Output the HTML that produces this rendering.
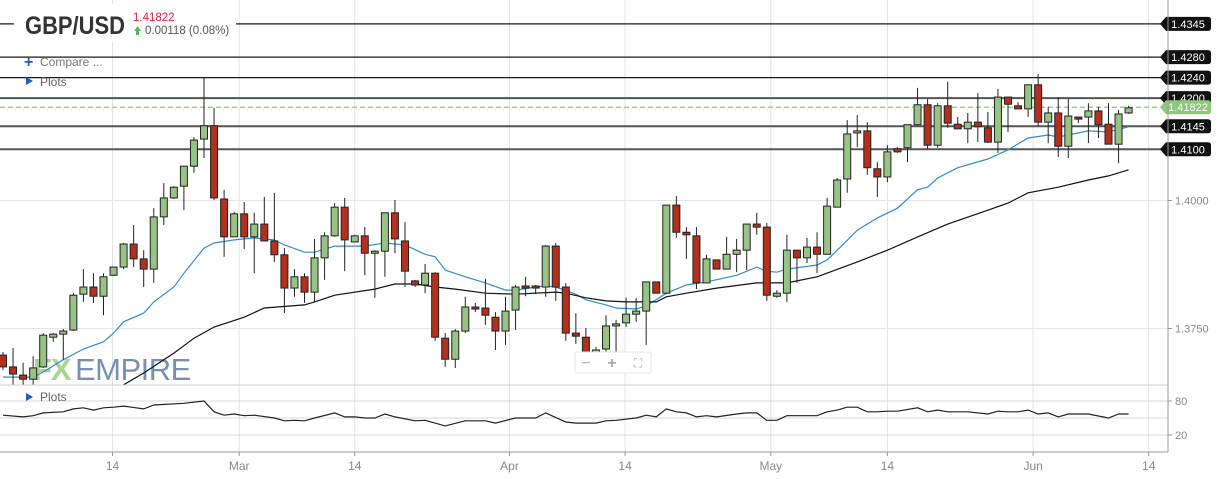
<!DOCTYPE html>
<html><head><meta charset="utf-8">
<style>
html,body{margin:0;padding:0;background:#fff;width:1221px;height:479px;overflow:hidden}
svg{display:block;font-family:"Liberation Sans",Arial,sans-serif}
</style></head>
<body>
<svg id="chart" width="1221" height="479" viewBox="0 0 1221 479" xmlns="http://www.w3.org/2000/svg">
  <rect x="0" y="0" width="1221" height="479" fill="#fff"/>
  <g id="grid"></g>
  <g id="plotlines"></g>
  <g id="watermark">
    <text x="33" y="380" font-size="31" font-weight="bold" fill="#8cc76b" fill-opacity="0.75" letter-spacing="-1">FX</text>
    <text x="75" y="380" font-size="31" fill="#5d7ea6" fill-opacity="0.85" letter-spacing="-0.5">EMPIRE</text>
  </g>
  <g id="mas"></g>
  <g id="candles"></g>
  <g id="labels"></g>
  <g id="rsi"></g>
  <g id="axes"></g>

  <g>
    <rect x="14" y="4" width="222" height="38" fill="#fff"/>
    <text x="25" y="34" font-size="25" font-weight="bold" fill="#333" textLength="100" lengthAdjust="spacingAndGlyphs">GBP/USD</text>
    <text x="133" y="21" font-size="11.5" fill="#e8173f">1.41822</text>
    <polygon points="134,31 137.5,26 141,31 139,31 139,35 136,35 136,31" fill="#5cb85c"/>
    <text x="145" y="34" font-size="11.5" fill="#555">0.00118 (0.08%)</text>
  </g>
  <g>
    <text x="24" y="67" font-size="16" font-weight="bold" fill="#1a5fc7">+</text>
    <text x="40" y="66" font-size="12" fill="#777">Compare ...</text>
  </g>
  <g>
    <polygon points="26,77 33,81 26,85" fill="#1a5fc7"/>
    <text x="40" y="86" font-size="12" fill="#666">Plots</text>
  </g>
  <g>
    <polygon points="26,393 33,397 26,401" fill="#1a5fc7"/>
    <text x="40" y="401" font-size="12" fill="#666">Plots</text>
  </g>
  <g>
    <rect x="575" y="352" width="76" height="21" rx="2" fill="#fff" stroke="#e6e6e6"/>
    <text x="586" y="368" font-size="16" fill="#aaa" text-anchor="middle">−</text>
    <text x="612" y="368" font-size="16" font-weight="bold" fill="#aaa" text-anchor="middle">+</text>
    <text x="638" y="367" font-size="12" fill="#aaa" text-anchor="middle">⛶</text>
  </g>
</svg>
<script>
const opens=[1.3698,1.3675,1.3659,1.3651,1.3675,1.3733,1.3739,1.3747,1.3817,1.3831,1.3813,1.3854,1.3870,1.3915,1.3886,1.3866,1.3968,1.4005,1.4028,1.4067,1.4120,1.4146,1.4003,1.3929,1.3974,1.3929,1.3954,1.3921,1.3894,1.3829,1.3851,1.3821,1.3888,1.3931,1.3987,1.3919,1.3931,1.3897,1.3901,1.3976,1.3921,1.3843,1.3835,1.3858,1.3731,1.3690,1.3745,1.3792,1.3790,1.3772,1.3745,1.3786,1.3833,1.3833,1.3831,1.3911,1.3831,1.3741,1.3733,1.3704,1.3710,1.3755,1.3761,1.3778,1.3784,1.3841,1.3819,1.3991,1.3938,1.3931,1.3839,1.3884,1.3866,1.3895,1.3903,1.3954,1.3948,1.3813,1.3819,1.3903,1.3888,1.3909,1.3895,1.3987,1.4042,1.4132,1.4136,1.4062,1.4046,1.4101,1.4103,1.4148,1.4187,1.4108,1.4185,1.4149,1.4140,1.4153,1.4142,1.4114,1.4202,1.4185,1.4179,1.4226,1.4153,1.4171,1.4106,1.4163,1.4163,1.4175,1.4149,1.4110,1.4171];
const highs=[1.3704,1.3712,1.3683,1.3696,1.3741,1.3741,1.3749,1.3819,1.3866,1.3858,1.3858,1.3870,1.3917,1.3952,1.3903,1.3985,1.4034,1.4028,1.4067,1.4124,1.4241,1.4181,1.4021,1.3978,1.3997,1.3976,1.4007,1.4015,1.3907,1.3866,1.3858,1.3925,1.3938,1.3995,1.4005,1.3933,1.3948,1.3903,1.3976,1.4001,1.3958,1.3845,1.3876,1.3860,1.3741,1.3749,1.3812,1.3800,1.3847,1.3782,1.3812,1.3835,1.3851,1.3835,1.3913,1.3917,1.3839,1.3780,1.3751,1.3714,1.3776,1.3767,1.3810,1.3810,1.3841,1.3841,1.3991,1.4009,1.3948,1.3948,1.3894,1.3884,1.3929,1.3925,1.3954,1.3976,1.3956,1.3825,1.3933,1.3903,1.3927,1.3938,1.4005,1.4044,1.4157,1.4167,1.4153,1.4075,1.4108,1.4104,1.4148,1.4220,1.4198,1.4190,1.4232,1.4163,1.4171,1.4210,1.4173,1.4218,1.4202,1.4192,1.4226,1.4247,1.4183,1.4202,1.4198,1.4163,1.4190,1.4183,1.4190,1.4177,1.4185];
const lows=[1.3669,1.3640,1.3640,1.3640,1.3673,1.3724,1.3689,1.3745,1.3802,1.3800,1.3776,1.3853,1.3866,1.3870,1.3831,1.3839,1.3952,1.4003,1.3981,1.4054,1.4083,1.4001,1.3890,1.3929,1.3905,1.3858,1.3921,1.3880,1.3780,1.3812,1.3800,1.3802,1.3845,1.3929,1.3862,1.3919,1.3854,1.3810,1.3851,1.3897,1.3831,1.3831,1.3819,1.3726,1.3675,1.3673,1.3741,1.3782,1.3757,1.3708,1.3718,1.3747,1.3813,1.3817,1.3812,1.3804,1.3726,1.3720,1.3685,1.3698,1.3702,1.3700,1.3753,1.3763,1.3718,1.3819,1.3817,1.3927,1.3886,1.3827,1.3839,1.3866,1.3866,1.3860,1.3864,1.3933,1.3804,1.3810,1.3802,1.3839,1.3878,1.3858,1.3894,1.3987,1.4015,1.4104,1.4050,1.4007,1.4036,1.4093,1.4075,1.4146,1.4101,1.4103,1.4142,1.4140,1.4112,1.4114,1.4112,1.4093,1.4134,1.4179,1.4163,1.4144,1.4112,1.4085,1.4083,1.4151,1.4112,1.4122,1.4110,1.4073,1.4169];
const closes=[1.3675,1.3661,1.3651,1.3673,1.3737,1.3739,1.3745,1.3815,1.3831,1.3813,1.3851,1.3870,1.3915,1.3886,1.3866,1.3968,1.4005,1.4026,1.4067,1.4118,1.4146,1.4005,1.3929,1.3974,1.3929,1.3954,1.3921,1.3894,1.3829,1.3851,1.3821,1.3888,1.3931,1.3987,1.3923,1.3931,1.3897,1.3901,1.3976,1.3925,1.3862,1.3835,1.3858,1.3733,1.3690,1.3745,1.3792,1.3788,1.3776,1.3745,1.3784,1.3831,1.3829,1.3829,1.3911,1.3831,1.3741,1.3735,1.3702,1.3708,1.3755,1.3759,1.3778,1.3784,1.3841,1.3819,1.3991,1.3938,1.3933,1.3839,1.3886,1.3866,1.3895,1.3903,1.3954,1.3948,1.3815,1.3819,1.3903,1.3888,1.3909,1.3895,1.3989,1.4040,1.4130,1.4136,1.4064,1.4046,1.4095,1.4095,1.4148,1.4187,1.4108,1.4185,1.4151,1.4140,1.4153,1.4144,1.4114,1.4202,1.4188,1.4179,1.4226,1.4153,1.4171,1.4106,1.4165,1.4159,1.4175,1.4148,1.4110,1.4169,1.4181];

const maFastIdx=[0,3,4,6,8,10,11,12,14,15,17,18,20,21,23,25,27,28,30,31,33,36,38,40,42,43,44,46,48,50,51,53,54,55,57,58,60,61,63,64,66,68,70,73,75,76,77,78,81,82,83,85,87,89,91,92,93,95,98,100,102,104,105,108,110,112];
const maFastVal=[1.3655,1.3655,1.3665,1.3689,1.3710,1.3724,1.3741,1.3763,1.3780,1.3802,1.3831,1.3858,1.3907,1.3917,1.3923,1.3927,1.3923,1.3913,1.3899,1.3899,1.3911,1.3911,1.3917,1.3913,1.3895,1.3890,1.3864,1.3851,1.3839,1.3825,1.3825,1.3831,1.3833,1.3831,1.3817,1.3806,1.3796,1.3790,1.3788,1.3794,1.3819,1.3835,1.3841,1.3854,1.3870,1.3862,1.3860,1.3866,1.3874,1.3884,1.3903,1.3942,1.3966,1.3985,1.4021,1.4026,1.4044,1.4064,1.4081,1.4099,1.4122,1.4128,1.4124,1.4136,1.4134,1.4144];
const maSlowIdx=[12,14,17,19,21,24,26,30,31,33,37,39,41,43,45,48,51,55,56,58,60,62,65,66,68,71,75,78,81,85,88,91,94,98,100,102,105,108,110,112];
const maSlowVal=[1.3640,1.3663,1.3702,1.3731,1.3753,1.3772,1.3790,1.3796,1.3802,1.3815,1.3827,1.3837,1.3837,1.3831,1.3827,1.3819,1.3817,1.3821,1.3819,1.3810,1.3804,1.3802,1.3802,1.3812,1.3819,1.3829,1.3839,1.3839,1.3851,1.3880,1.3903,1.3929,1.3954,1.3981,1.3995,1.4015,1.4026,1.4040,1.4048,1.4060];

const rsiIdx=[0,2,3,4,6,7,8,9,10,11,12,14,15,18,20,21,22,23,24,25,27,28,29,30,31,33,34,35,36,37,38,39,41,42,44,46,48,49,51,53,54,56,57,59,60,61,63,64,65,66,67,68,69,70,71,73,74,75,76,77,78,81,82,83,84,85,86,87,88,89,91,92,93,94,95,96,98,99,100,101,102,103,104,105,106,108,110,111,112];
const rsiVal=[55,52,54,59,61,66,68,64,68,69,71,66,73,76,80,61,55,57,54,55,50,45,46,45,50,59,52,52,50,50,57,52,45,46,36,45,45,41,50,50,59,43,41,41,45,46,50,55,52,66,61,59,52,54,52,57,59,59,46,46,54,54,61,64,69,69,61,61,62,62,68,61,64,61,61,61,57,62,61,61,64,57,59,52,57,57,50,57,57];

const levelVals=[1.4345,1.4280,1.4240,1.4200,1.4145,1.4100];
const levelText=["1.4345","1.4280","1.4240","1.4200","1.4145","1.4100"];
const currentPrice=1.41822;
const currentText="1.41822";
const priceTicks=[1.4000,1.3750];
const priceTickText=["1.4000","1.3750"];
const rsiTicks=[80,20];
const rsiTickText=["80","20"];
const dateIdx=[-11,10.9,23.5,35,50.4,61.9,76.4,88,102.5,114];
const dateText=["b","14","Mar","14","Apr","14","May","14","Jun","14"];

const NS="http://www.w3.org/2000/svg";
const xS=i=>3+10.05*i;
const yS=p=>200.5-(p-1.4)*5120;
const rY=v=>418-(v-50)*0.567;
const AXX=1168;
function mk(tag,attrs,parent){const e=document.createElementNS(NS,tag);for(const k in attrs)e.setAttribute(k,attrs[k]);parent.appendChild(e);return e;}

const grid=document.getElementById('grid');
dateIdx.forEach((d,k)=>{
  if(k===0)return;
  const l=mk('line',{x1:xS(d),x2:xS(d),y1:0,y2:452,stroke:'#e4e4e4','stroke-width':1},grid);
  
  
});
priceTicks.forEach(p=>{
  const l=mk('line',{x1:0,x2:AXX,y1:yS(p),y2:yS(p),stroke:'#e4e4e4'},grid);
  
  
});

const pl=document.getElementById('plotlines');
const lab=document.getElementById('labels');
levelVals.forEach((p,k)=>{
  const y=yS(p);
  const gray=(k>=3);
  const l=mk('line',{x1:0,x2:1162,y1:y,y2:y,stroke:gray?'#555':'#1a1a1a','stroke-width':gray?2:1.3},pl);
  
  
});
{
  const y=yS(currentPrice);
  const l=mk('line',{x1:0,x2:1162,y1:y,y2:y,stroke:'#8dc77b','stroke-width':1.3,'stroke-dasharray':'5,3'},pl);
  
  
}
function tag(y,txt,fill,col){
  const g=mk('g',{},lab);
  
  
  mk('path',{d:`M1160 ${y} L1166 ${y-7} L1208 ${y-7} Q1211 ${y-7} 1211 ${y-4} L1211 ${y+4} Q1211 ${y+7} 1208 ${y+7} L1166 ${y+7} Z`,fill:fill},g);
  const t=mk('text',{x:1188,y:y+4,'font-size':11,fill:col,'text-anchor':'middle'},g);
  t.textContent=txt;
}
levelVals.forEach((p,k)=>tag(yS(p),levelText[k],'#111','#fff'));
tag(yS(currentPrice),currentText,'#8dc77b','#fff');

const mas=document.getElementById('mas');
const fp=maFastIdx.map((d,k)=>xS(d).toFixed(1)+','+yS(maFastVal[k]).toFixed(1)).join(' ');
const fl=mk('polyline',{points:fp,fill:'none',stroke:'#2b8fd0','stroke-width':1.2},mas);


const sp=maSlowIdx.map((d,k)=>xS(d).toFixed(1)+','+yS(maSlowVal[k]).toFixed(1)).join(' ');
const sl=mk('polyline',{points:sp,fill:'none',stroke:'#111','stroke-width':1.2},mas);



const cg=document.getElementById('candles');
opens.forEach((o,i)=>{
  const c=closes[i],h=highs[i],lo=lows[i];
  const x=xS(i);
  const up=c>=o;
  const g=mk('g',{},cg);
  
  
  mk('line',{x1:x,x2:x,y1:yS(h),y2:yS(lo),stroke:'#222','stroke-width':1},g);
  const top=yS(Math.max(o,c)),bot=yS(Math.min(o,c));
  mk('rect',{x:x-3.5,y:top,width:7,height:Math.max(bot-top,1.5),fill:up?'#97c384':'#b3301c',stroke:'#222','stroke-width':1},g);
});

const rg=document.getElementById('rsi');
[385].forEach(y=>{const l=mk('line',{x1:0,x2:AXX,y1:y,y2:y,stroke:'#cfcfcf'},rg);});
[80,50,20].forEach(v=>{const l=mk('line',{x1:0,x2:AXX,y1:rY(v),y2:rY(v),stroke:'#d8d8d8'},rg);});
const rp=rsiIdx.map((d,k)=>xS(d).toFixed(1)+','+rY(rsiVal[k]).toFixed(1)).join(' ');
const rl=mk('polyline',{points:rp,fill:'none',stroke:'#222','stroke-width':1.2},rg);



const ax=document.getElementById('axes');
const va=mk('line',{x1:AXX,x2:AXX,y1:0,y2:452,stroke:'#999'},ax);


const ha=mk('line',{x1:0,x2:AXX,y1:452,y2:452,stroke:'#999'},ax);


priceTicks.forEach((p,k)=>{
  mk('line',{x1:AXX,x2:AXX+4,y1:yS(p),y2:yS(p),stroke:'#999'},ax);
  const t=mk('text',{x:1175,y:yS(p)+4,'font-size':11,fill:'#888'},ax);
  
  
  t.textContent=priceTickText[k];
});
rsiTicks.forEach((v,k)=>{
  mk('line',{x1:AXX,x2:AXX+4,y1:rY(v),y2:rY(v),stroke:'#999'},ax);
  const t=mk('text',{x:1175,y:rY(v)+4,'font-size':11,fill:'#888'},ax);
  
  
  t.textContent=rsiTickText[k];
});
dateIdx.forEach((d,k)=>{
  const x=xS(d);
  mk('line',{x1:x,x2:x,y1:452,y2:456,stroke:'#999'},ax);
  const t=mk('text',{x:x,y:470,'font-size':12,fill:'#888','text-anchor':'middle'},ax);
  
  
  t.textContent=dateText[k];
});
</script>
</body></html>
